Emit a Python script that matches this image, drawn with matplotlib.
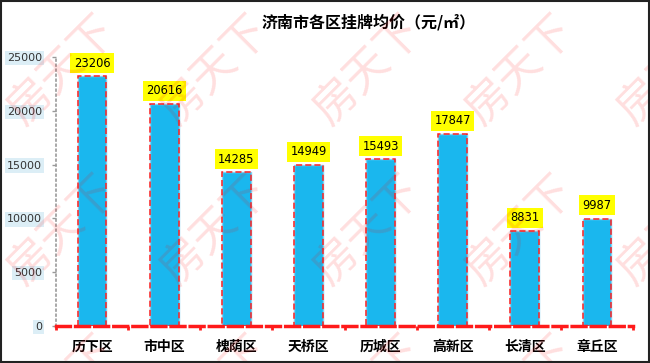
import matplotlib
matplotlib.use("Agg")
import matplotlib.pyplot as plt
from matplotlib.patches import Rectangle

plt.rcParams['font.family'] = ['Noto Sans CJK SC', 'DejaVu Sans']

categories = ["历下区", "市中区", "槐荫区", "天桥区", "历城区", "高新区", "长清区", "章丘区"]
prices = [23206, 20616, 14285, 14949, 15493, 17847, 8831, 9987]
yticks = [0, 5000, 10000, 15000, 20000, 25000]
title = "济南市各区挂牌均价（元/㎡）"
watermark = "房天下"

W, H = 650, 363
fig = plt.figure(figsize=(W / 100, H / 100), dpi=100)
fig.patch.set_facecolor("white")

ax = fig.add_axes([56 / W, (H - 326) / H, (633 - 56) / W, (326 - 57) / H])
ax.set_facecolor("none")
x = list(range(len(categories)))
ax.bar(x, prices, width=0.4, color="#1AB7EE", edgecolor="#7FD3F5",
       linewidth=1.0, zorder=2)
ax.bar(x, prices, width=0.4, color="none", edgecolor="#FF2020",
       linewidth=1.1, linestyle=(0, (4, 2)), zorder=3)

ax.set_xlim(-0.5, len(categories) - 0.5)
ax.set_ylim(0, 25000)

for xi, v in zip(x, prices):
    ax.annotate(str(v), (xi, v), xytext=(0, 9.5), textcoords="offset points",
                ha="center", va="center", fontsize=8.3, color="black",
                family="DejaVu Sans",
                bbox=dict(boxstyle="square,pad=0.3", fc="#FFFF00", ec="none"),
                annotation_clip=False, zorder=4)

for s in ["top", "right"]:
    ax.spines[s].set_visible(False)
ax.spines["left"].set_color("#999999")
ax.spines["left"].set_linestyle((0, (1, 2)))
ax.spines["left"].set_linewidth(1.2)
ax.spines["bottom"].set_color("#FF1A1A")
ax.spines["bottom"].set_linestyle((0, (4, 1.5)))
ax.spines["bottom"].set_linewidth(2.5)
ax.spines["bottom"].set_zorder(5)

ax.set_yticks(yticks)
ax.set_yticklabels([str(t) for t in yticks], family="DejaVu Sans")
ax.tick_params(axis="y", length=3, width=1, color="#999999", pad=7,
               labelsize=8, labelcolor="#333333")
for lab in ax.get_yticklabels():
    lab.set_bbox(dict(boxstyle="square,pad=0.2", fc="#DCEEF6", ec="none"))

ax.set_xticks(x)
ax.set_xticklabels(categories, fontsize=10, fontweight="bold", color="black")
ax.tick_params(axis="x", which="major", length=0, pad=10)
ax.set_xticks([i - 0.5 for i in range(len(categories) + 1)], minor=True)
ax.tick_params(axis="x", which="minor", length=3, width=2, color="#FF1A1A")

fig.text(369 / W, 1 - 22 / H, title, ha="center", va="center",
         fontsize=11.5, fontweight="bold", color="black")

# watermark
for cy in [70, 230, 390]:
    for cx in [62, 215, 368, 520, 672]:
        fig.text(cx / W, 1 - cy / H, watermark, ha="center", va="center",
                 rotation=45, fontsize=32, color="red", alpha=0.13, zorder=10)

fig.patches.append(Rectangle((0.001, 0.002), 0.997, 0.995, transform=fig.transFigure,
                             fill=False, ec="#222222", lw=1.5, zorder=20))

fig.savefig("out.png", dpi=100)
